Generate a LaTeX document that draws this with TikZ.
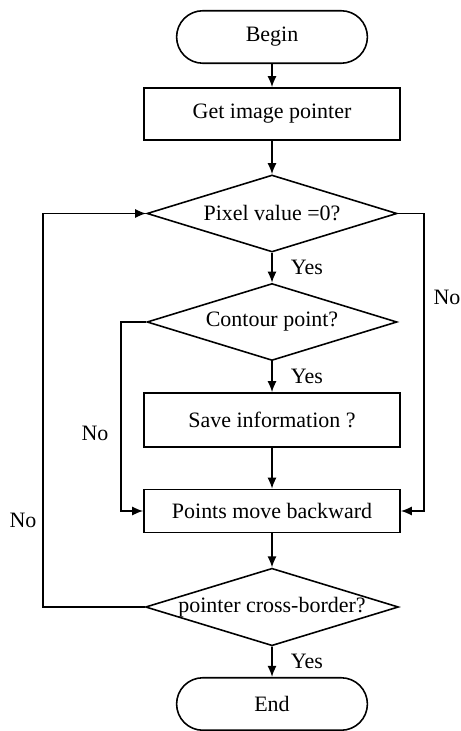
\documentclass[tikz,border=0pt]{standalone}
\usepackage{fontspec}
\setmainfont{Liberation Serif}
\usetikzlibrary{shapes.geometric,shapes.misc,arrows.meta}

\tikzset{
  every node/.style={font=\fontsize{12.5}{15}\selectfont},
  terminal/.style={draw,rounded rectangle,minimum width=4.05cm,minimum height=1.05cm,line width=0.9pt},
  process/.style={draw,rectangle,minimum width=5.12cm,line width=0.9pt},
  decision/.style={draw,diamond,aspect=3.25,inner sep=0pt,minimum width=5.0cm,minimum height=1.54cm,line width=0.9pt},
  flow/.style={line width=0.9pt,-{Latex[length=2.2mm,width=1.8mm]}},
}

\begin{document}
\begin{tikzpicture}
\useasboundingbox (0,0) rectangle (9.22,-14.62);
\node[terminal](begin) at (5.44,-0.74) {Begin};
\node[process,minimum height=1.04cm](getptr) at (5.44,-2.28) {Get image pointer};
\node[decision](pixel) at (5.44,-4.27) {Pixel value =0?};
\node[decision](contour) at (5.44,-6.44) {Contour point?};
\node[process,minimum height=1.08cm](save) at (5.44,-8.4) {Save information ?};
\node[process,minimum height=0.86cm](move) at (5.44,-10.22) {Points move backward};
\node[decision,minimum width=5.06cm](cross) at (5.44,-12.14) {pointer cross-border?};
\node[terminal](end) at (5.44,-14.08) {End};
\coordinate (loopl) at (0.86,0);
\coordinate (nor) at (8.48,0);
\coordinate (noc) at (2.42,0);
\draw[flow](begin)--(getptr);
\draw[flow](getptr)--(pixel);
\draw[flow](pixel)--(contour)node[pos=0.5,right=7pt]{Yes};
\draw[flow](contour)--(save)node[pos=0.5,right=7pt]{Yes};
\draw[flow](save)--(move);
\draw[flow](move)--(cross);
\draw[flow](cross)--(end)node[pos=0.5,right=7pt]{Yes};
\draw[flow](pixel.east)-|(nor|-move.east)--(move.east);
\draw[flow](contour.west)-|(noc|-move.west)--(move.west);
\draw[flow](cross.west)-|(loopl|-pixel.west)--(pixel.west);
\node(no1) at (8.94,-5.94) {No};
\node(no2) at (1.9,-8.66) {No};
\node(no3) at (0.46,-10.4) {No};
\end{tikzpicture}
\end{document}
